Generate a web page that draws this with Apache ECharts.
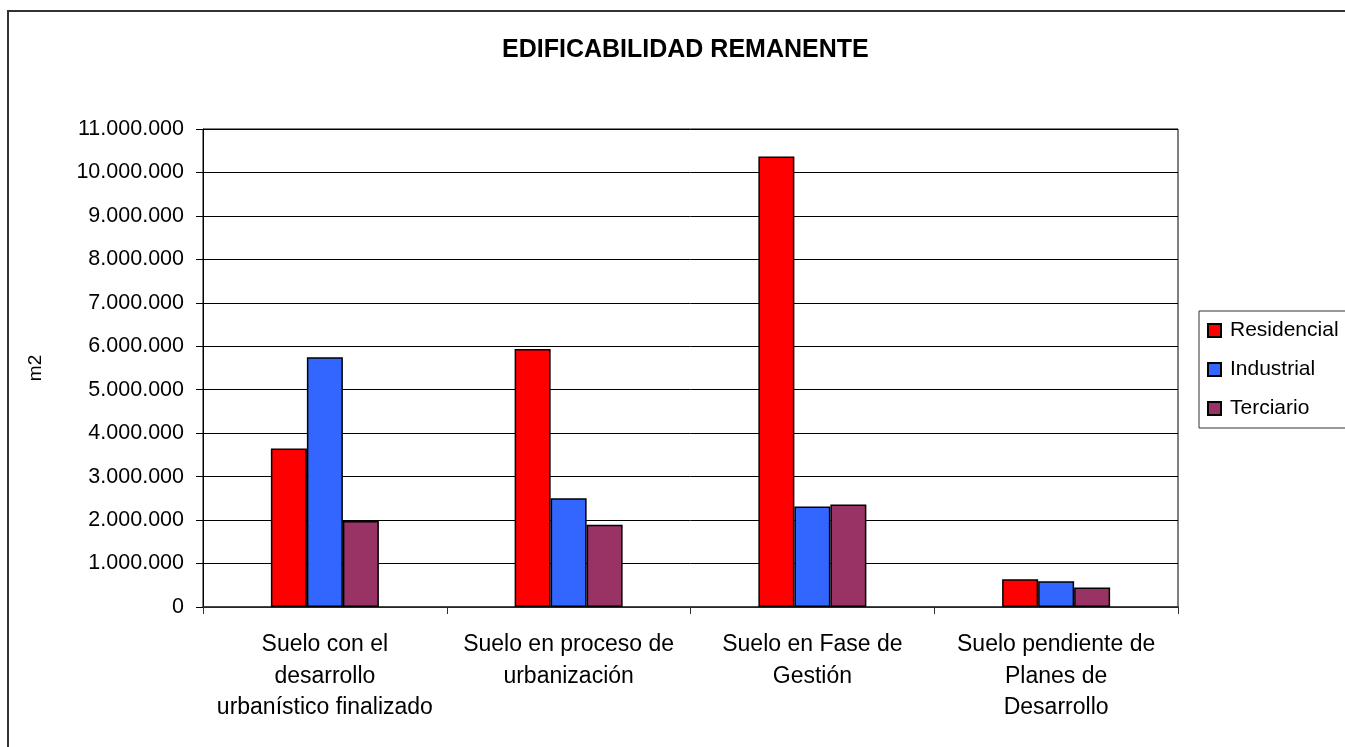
<!DOCTYPE html>
<html>
<head>
<meta charset="utf-8">
<title>Edificabilidad remanente</title>
<script src="https://cdn.jsdelivr.net/npm/echarts@6/dist/echarts.min.js"></script>
<style>
  html, body { margin: 0; padding: 0; background: #fff; }
  #chart { width: 1345px; height: 747px; }
</style>
</head>
<body>
<div id="chart"></div>
<script>
// Categorías (con los saltos de línea del original)
const categories = [
  'Suelo con el\ndesarrollo\nurbanístico finalizado',
  'Suelo en proceso de\nurbanización',
  'Suelo en Fase de\nGestión',
  'Suelo pendiente de\nPlanes de\nDesarrollo'
];

// m2 por tipo de suelo
const residencial = [3650000, 5940000, 10370000, 640000];
const industrial  = [5750000, 2500000, 2310000, 590000];
const terciario   = [1980000, 1890000, 2360000, 450000];

const seriesNames = ['Residencial', 'Industrial', 'Terciario'];
const seriesColors = ['#ff0000', '#3366ff', '#993366'];

// 11000000 -> "11.000.000"
function miles(v) {
  return String(v).replace(/\B(?=(\d{3})+(?!\d))/g, '.');
}

const font = 'Liberation Sans, Arial, sans-serif';
const chart = echarts.init(document.getElementById('chart'));

chart.setOption({
  animation: false,
  title: {
    text: 'EDIFICABILIDAD REMANENTE',
    left: 497,
    top: 33,
    textStyle: { fontFamily: font, fontSize: 25, fontWeight: 'bold', color: '#000' }
  },
  legend: {
    orient: 'vertical',
    left: 1199,
    top: 311,
    padding: [9, 40, 9, 8],
    itemGap: 18,
    itemWidth: 13,
    itemHeight: 13,
    icon: 'rect',
    borderColor: '#333',
    borderWidth: 1,
    textStyle: { fontFamily: font, fontSize: 21, color: '#000', padding: [0, 0, 0, 4] },
    data: seriesNames
  },
  grid: {
    left: 203, right: 167, top: 129, bottom: 140,
    show: true, borderColor: '#000', borderWidth: 1
  },
  xAxis: {
    type: 'category',
    data: categories,
    axisLine: { lineStyle: { color: '#333', width: 1.5 } },
    axisTick: { show: true, length: 7, lineStyle: { color: '#333' } },
    axisLabel: {
      interval: 0, margin: 22, lineHeight: 31.5,
      fontFamily: font, fontSize: 23, color: '#000'
    }
  },
  yAxis: {
    type: 'value',
    min: 0, max: 11000000, interval: 1000000,
    name: 'm2',
    nameLocation: 'middle',
    nameGap: 158,
    nameTextStyle: { fontFamily: font, fontSize: 19, color: '#000' },
    axisLine: { show: true, lineStyle: { color: '#000' } },
    axisTick: { show: true, length: 7, lineStyle: { color: '#000' } },
    splitLine: { lineStyle: { color: '#000', width: 1 } },
    axisLabel: {
      margin: 19, fontFamily: font, fontSize: 21.5, color: '#000',
      formatter: miles
    }
  },
  series: [residencial, industrial, terciario].map(function (vals, i) {
    return {
      name: seriesNames[i],
      type: 'bar',
      data: vals,
      barWidth: 36,
      barGap: '0%',
      itemStyle: { color: seriesColors[i], borderColor: '#000', borderWidth: 1.5 }
    };
  }),
  graphic: [{
    type: 'rect',
    silent: true,
    shape: { x: 8, y: 11, width: 1400, height: 800 },
    style: { fill: 'none', stroke: '#333', lineWidth: 2 }
  }]
});
</script>
</body>
</html>
